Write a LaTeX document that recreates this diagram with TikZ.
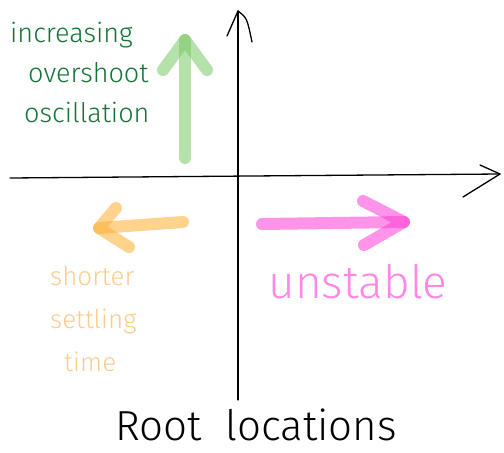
\documentclass[tikz,border=0pt]{standalone}
\usepackage{fontspec}
\setmainfont{Fira Sans Light}
\usetikzlibrary{positioning}
\definecolor{leafgreen}{RGB}{120,200,100}
\definecolor{inkgreen}{RGB}{20,115,55}
\definecolor{peach}{RGB}{252,175,50}
\definecolor{peachink}{RGB}{250,205,140}
\definecolor{hotpink}{RGB}{255,60,215}
\definecolor{pinkink}{RGB}{255,135,232}

\begin{document}
\begin{tikzpicture}[x=1pt,y=-1pt,
    axis/.style={line width=1.3pt,line cap=round,line join=round},
    marker/.style={line width=12pt,line cap=round,line join=round,opacity=0.55},
    note/.style={inner sep=0pt,align=left}]
\useasboundingbox (0,0) rectangle (504,453);

% axes
\coordinate (ytop) at (238,11);
\coordinate (ybot) at (238,400);
\coordinate (xleft) at (10,178);
\coordinate (xright) at (500,174);
\draw[axis] (ybot) -- (ytop);
\draw[axis] (227,36) -- (ytop) .. controls (247,18) .. (252,42);
\draw[axis] (xleft) .. controls (250,176) .. (xright);
\draw[axis] (480,165) -- (xright) -- (463,197);

% growing overshoot (up)
\coordinate (gtail) at (185,158);
\coordinate (ghead) at (185,40);
\draw[marker,leafgreen] (gtail) -- (ghead);
\draw[marker,leafgreen] (163,70) -- (ghead) -- (207,70);

% faster settling (left)
\coordinate (otail) at (183,222);
\coordinate (ohead) at (99,228);
\draw[marker,peach] (otail) -- (ohead);
\draw[marker,peach] (116,208) -- (ohead) -- (129,247);

% unstable (right)
\coordinate (ptail) at (262,224);
\coordinate (phead) at (404,222);
\draw[marker,hotpink] (ptail) -- (phead);
\draw[marker,hotpink] (363,201) -- (phead) -- (364,245);

% labels
\node[note,text=inkgreen,anchor=north west,font=\fontsize{27}{40}\selectfont] (overshoot) at (10,22)
    {increasing\\\hspace*{18pt}overshoot\\\hspace*{14pt}oscillation};
\node[note,text=peachink,anchor=north west,font=\fontsize{26}{43}\selectfont] (settling) at (50,266)
    {shorter\\settling\\\hspace*{14pt}time};
\node[inner sep=0pt,text=pinkink,font=\fontsize{46}{48}\selectfont] (unstable) at (358,282) {unstable};
\node[inner sep=0pt,font=\fontsize{42}{44}\selectfont] (title) at (256,425) {Root\hspace{24pt}locations};
\end{tikzpicture}
\end{document}
